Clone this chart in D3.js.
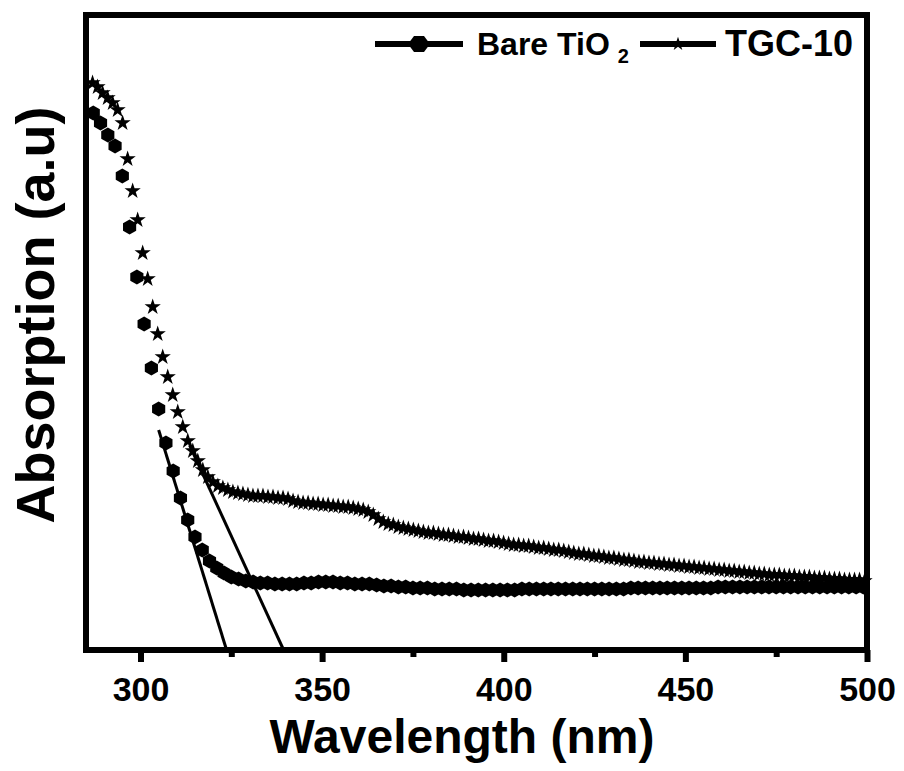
<!DOCTYPE html>
<html>
<head>
<meta charset="utf-8">
<script src="https://cdn.jsdelivr.net/npm/d3@7"></script>
<style>
  body { margin: 0; background: #fff; }
  text { font-family: "Liberation Sans", Arial, sans-serif; font-weight: bold; fill: #000; }
</style>
</head>
<body>
<svg id="c" width="904" height="771"></svg>
<script>
// wavelength grids (nm) of the two scans
const bareStart = 287, bareStep = 2;
const tgcStart = 286.8, tgcStep = 1.38;

// absorption (a.u.)
const bareValues = [
  0.537, 0.527, 0.515, 0.504, 0.474, 0.423, 0.373, 0.326, 0.282, 0.241, // 287-305
  0.207, 0.179, 0.152, 0.130, 0.113, 0.100, 0.089, 0.082, 0.077, 0.073, // 307-325
  0.071, 0.069, 0.068, 0.067, 0.067, 0.066, 0.066, 0.066, 0.066, 0.067, // 327-345
  0.067, 0.068, 0.068, 0.068, 0.067, 0.067, 0.066, 0.066, 0.066, 0.065, // 347-365
  0.064, 0.064, 0.063, 0.063, 0.062, 0.062, 0.062, 0.061, 0.061, 0.061, // 367-385
  0.061, 0.060, 0.060, 0.060, 0.060, 0.060, 0.060, 0.060, 0.060, 0.061, // 387-405
  0.061, 0.061, 0.061, 0.061, 0.061, 0.061, 0.061, 0.061, 0.061, 0.061, // 407-425
  0.061, 0.061, 0.061, 0.061, 0.062, 0.062, 0.062, 0.062, 0.062, 0.062, // 427-445
  0.062, 0.062, 0.062, 0.062, 0.062, 0.062, 0.063, 0.063, 0.063, 0.063, // 447-465
  0.063, 0.063, 0.063, 0.063, 0.063, 0.063, 0.063, 0.063, 0.063, 0.063, // 467-485
  0.063, 0.063, 0.063, 0.063, 0.063, 0.063, 0.063                       // 487-499
];

const tgcValues = [
  0.567, 0.563, 0.557, 0.552, 0.547, 0.540, 0.527, 0.491, 0.459, 0.430,
  0.397, 0.371, 0.343, 0.316, 0.293, 0.273, 0.255, 0.238, 0.223, 0.209,
  0.199, 0.189, 0.180, 0.173, 0.168, 0.164, 0.162, 0.160, 0.158, 0.157,
  0.156, 0.155, 0.154, 0.154, 0.154, 0.153, 0.153, 0.152, 0.152, 0.151,
  0.149, 0.148, 0.147, 0.147, 0.146, 0.146, 0.145, 0.145, 0.144, 0.144,
  0.143, 0.143, 0.142, 0.141, 0.140, 0.138, 0.135, 0.131, 0.128, 0.126,
  0.125, 0.123, 0.122, 0.121, 0.120, 0.119, 0.118, 0.117, 0.117, 0.116,
  0.115, 0.115, 0.114, 0.113, 0.113, 0.112, 0.111, 0.111, 0.110, 0.109,
  0.109, 0.108, 0.107, 0.106, 0.105, 0.105, 0.104, 0.104, 0.103, 0.102,
  0.102, 0.101, 0.100, 0.100, 0.099, 0.098, 0.097, 0.096, 0.096, 0.095,
  0.094, 0.094, 0.093, 0.092, 0.092, 0.091, 0.090, 0.090, 0.089, 0.088,
  0.088, 0.087, 0.087, 0.086, 0.086, 0.085, 0.085, 0.084, 0.084, 0.083,
  0.083, 0.082, 0.082, 0.081, 0.081, 0.080, 0.080, 0.079, 0.079, 0.078,
  0.078, 0.077, 0.077, 0.076, 0.076, 0.075, 0.075, 0.075, 0.074, 0.074,
  0.074, 0.073, 0.073, 0.073, 0.072, 0.072, 0.072, 0.071, 0.071, 0.071,
  0.070, 0.070, 0.070, 0.070, 0.069
];

// band-edge tangent lines [wavelength, absorption]
const tangentBare = [[305.0, 0.220], [323.7, 0]];
const tangentTgc = [[313.5, 0.205], [339.4, 0]];

const xTicks = [300, 350, 400, 450, 500];
const xMinorTicks = [325, 375, 425, 475];

const bareData = bareValues.map((v, i) => ({ wl: bareStart + i * bareStep, v: v }));
const tgcData = tgcValues.map((v, i) => ({ wl: tgcStart + i * tgcStep, v: v }));

const margin = { left: 86, right: 37, top: 15, bottom: 121 };
const width = 904, height = 771;

const svg = d3.select('#c');

const x = d3.scaleLinear().domain([285, 500]).range([margin.left, width - margin.right]);
const y = d3.scaleLinear().domain([0, 0.635]).range([height - margin.bottom, margin.top]);

function hexPath(r) {
  let p = [];
  for (let k = 0; k < 6; k++) {
    const a = -Math.PI / 2 + k * Math.PI / 3;
    p.push([r * Math.cos(a), r * Math.sin(a)]);
  }
  return 'M' + p.map(d => d.join(',')).join('L') + 'Z';
}

const starPath = d3.symbol().type(d3.symbolStar).size(82)();
const hex = hexPath(7.6);

// tangent lines
const line = d3.line().x(d => x(d[0])).y(d => y(d[1]));
[tangentBare, tangentTgc].forEach(t => {
  svg.append('path')
    .attr('d', line(t))
    .attr('fill', 'none')
    .attr('stroke', '#000')
    .attr('stroke-width', 3);
});

// markers
svg.append('g').selectAll('path')
  .data(bareData)
  .join('path')
  .attr('d', hex)
  .attr('transform', d => 'translate(' + x(d.wl) + ',' + y(d.v) + ')')
  .attr('fill', '#000');

svg.append('g').selectAll('path')
  .data(tgcData)
  .join('path')
  .attr('d', starPath)
  .attr('transform', d => 'translate(' + x(d.wl) + ',' + y(d.v) + ')')
  .attr('fill', '#000');

// frame
const x0 = margin.left, x1 = width - margin.right;
const y0 = margin.top, y1 = height - margin.bottom;
svg.append('rect')
  .attr('x', x0).attr('y', y0)
  .attr('width', x1 - x0).attr('height', y1 - y0)
  .attr('fill', 'none')
  .attr('stroke', '#000')
  .attr('stroke-width', 6);

// bottom axis
const xAxis = d3.axisBottom(x)
  .tickValues(xTicks)
  .tickSize(12)
  .tickPadding(15)
  .tickFormat(d3.format('d'));

const gx = svg.append('g')
  .attr('transform', 'translate(0,' + y1 + ')')
  .call(xAxis);
gx.select('.domain').remove();
gx.selectAll('line').attr('stroke', '#000').attr('stroke-width', 6);
gx.selectAll('text')
  .style('font-size', '34px')
  .style('font-family', '"Liberation Sans", Arial, sans-serif')
  .style('font-weight', 'bold')
  .attr('fill', '#000');

const gxm = svg.append('g')
  .attr('transform', 'translate(0,' + y1 + ')')
  .call(d3.axisBottom(x).tickValues(xMinorTicks).tickSize(7).tickFormat(''));
gxm.select('.domain').remove();
gxm.selectAll('line').attr('stroke', '#000').attr('stroke-width', 6);

// axis titles
svg.append('text')
  .attr('x', 462)
  .attr('y', 753)
  .attr('text-anchor', 'middle')
  .style('font-size', '48px')
  .text('Wavelength (nm)');

svg.append('text')
  .attr('transform', 'translate(54,315) rotate(-90)')
  .attr('text-anchor', 'middle')
  .style('font-size', '54px')
  .text('Absorption (a.u)');

// legend
const legend = svg.append('g');
legend.append('line')
  .attr('x1', 375).attr('x2', 463).attr('y1', 44).attr('y2', 44)
  .attr('stroke', '#000').attr('stroke-width', 6);
legend.append('path')
  .attr('d', 'M-11,0L-5,-8L5,-8L11,0L5,8L-5,8Z')
  .attr('transform', 'translate(419,44)')
  .attr('fill', '#000');
const t1 = legend.append('text')
  .attr('x', 477).attr('y', 55)
  .style('font-size', '32px');
t1.append('tspan').text('Bare TiO');
t1.append('tspan').attr('dx', 8).attr('dy', 8).style('font-size', '20px').text('2');

legend.append('line')
  .attr('x1', 640).attr('x2', 716).attr('y1', 44).attr('y2', 44)
  .attr('stroke', '#000').attr('stroke-width', 6);
legend.append('path')
  .attr('d', d3.symbol().type(d3.symbolStar).size(60)())
  .attr('transform', 'translate(678,44)')
  .attr('fill', '#000');
legend.append('text')
  .attr('x', 725).attr('y', 56)
  .style('font-size', '36px')
  .text('TGC-10');
</script>
</body>
</html>
